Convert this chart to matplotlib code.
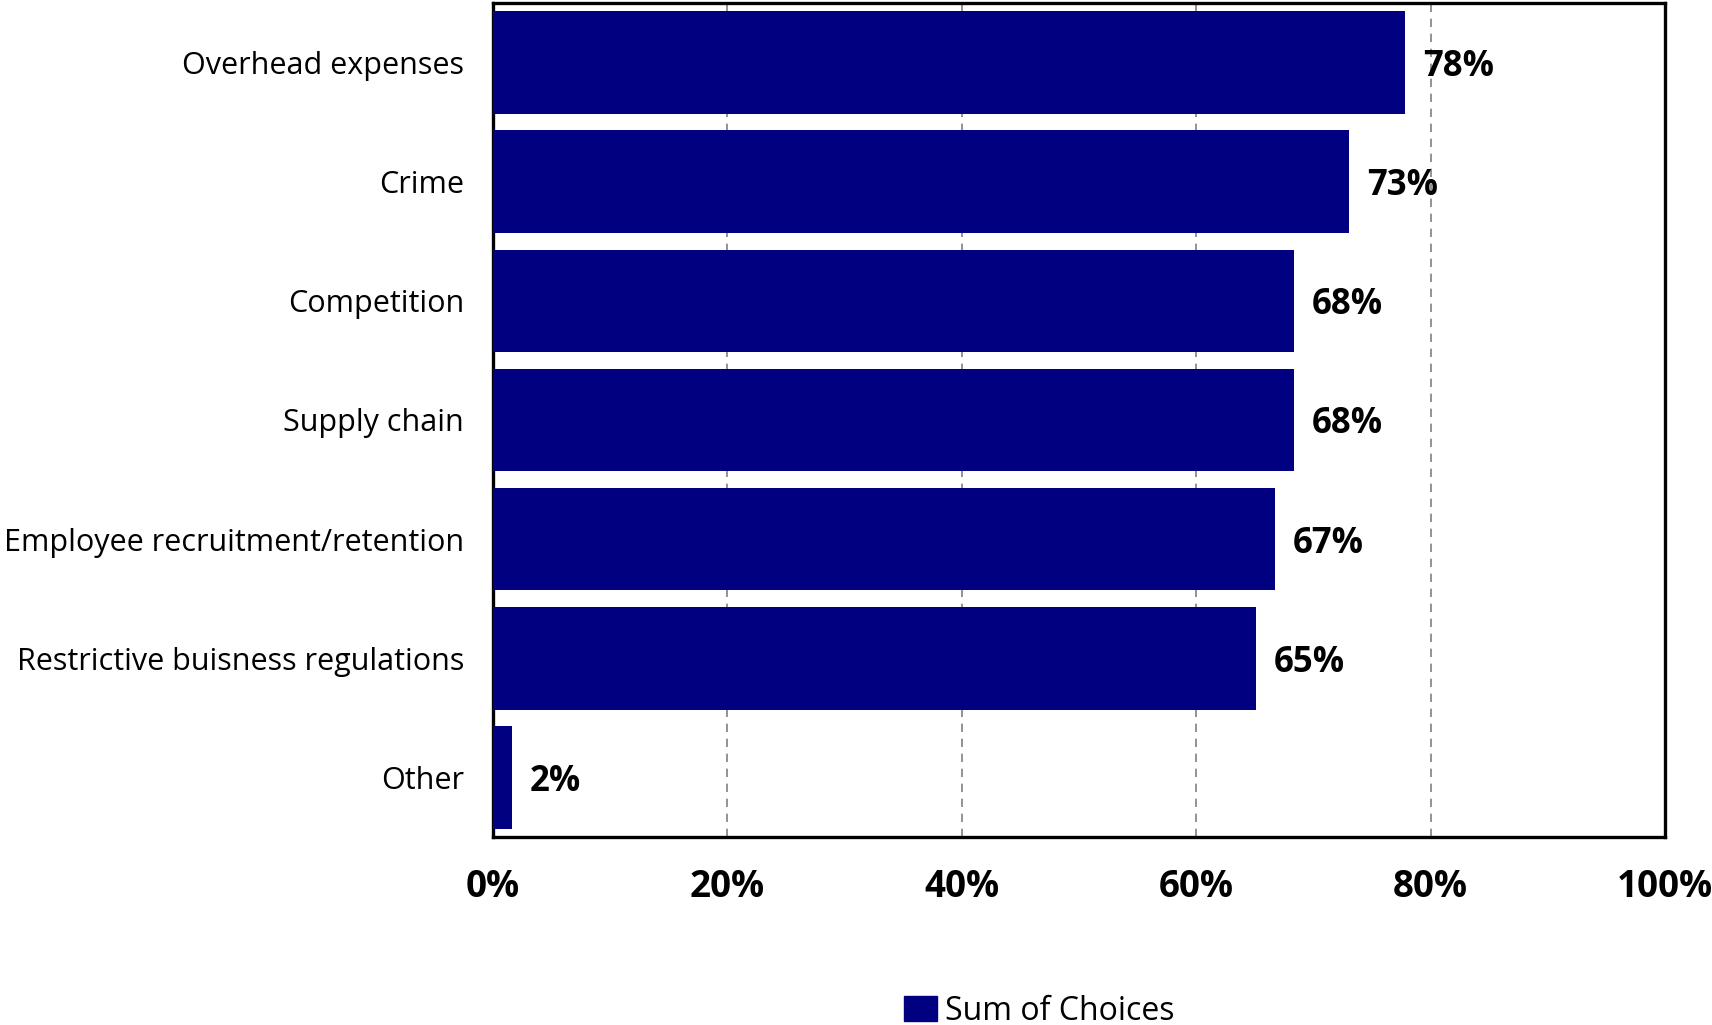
import matplotlib
matplotlib.use("Agg")
import matplotlib.pyplot as plt
from matplotlib.patches import Patch
from matplotlib.ticker import PercentFormatter

categories = ["Overhead expenses", "Crime", "Competition", "Supply chain",
              "Employee recruitment/retention", "Restrictive buisness regulations", "Other"]
values = [77.8, 73.0, 68.3, 68.3, 66.7, 65.1, 1.6]
xticks = [0, 20, 40, 60, 80, 100]

plt.rcParams['font.family'] = ['Open Sans', 'DejaVu Sans']

fig = plt.figure(figsize=(17.12, 10.25), dpi=100)
ax = fig.add_axes([0.288, 0.1834, 0.6846, 0.8137])

ypos = list(range(len(categories)))
ax.barh(ypos, values, height=0.86, color="#000080", zorder=3)

for y, v in zip(ypos, values):
    ax.annotate(f"{v:.0f}%", (v, y), xytext=(18, 0), textcoords="offset pixels",
                va="center_baseline", ha="left", fontsize=25, fontweight="bold", zorder=4)

ax.set_xlim(0, 100)
ax.set_ylim(len(categories) - 0.5, -0.5)
ax.set_yticks(ypos)
ax.set_yticklabels(categories, fontsize=22)
ax.set_xticks(xticks)
ax.xaxis.set_major_formatter(PercentFormatter(decimals=0))
for lbl in ax.get_xticklabels():
    lbl.set_fontweight("bold")
    lbl.set_fontsize(26.5)
ax.tick_params(axis="both", length=0)
ax.tick_params(axis="x", pad=22)
ax.tick_params(axis="y", pad=21)

ax.grid(axis="x", color="#808080", linestyle=(0, (5, 4)), linewidth=1.2, zorder=0)
for s in ax.spines.values():
    s.set_linewidth(2.4)
    s.set_color("black")

fig.legend(handles=[Patch(color="#000080", label="Sum of Choices")],
           loc="center", bbox_to_anchor=(0.607, 0.0135), frameon=False,
           fontsize=23, handlelength=1.03, handleheight=0.8, handletextpad=0.25,
           borderpad=0)

fig.savefig("out.png", dpi=100)
